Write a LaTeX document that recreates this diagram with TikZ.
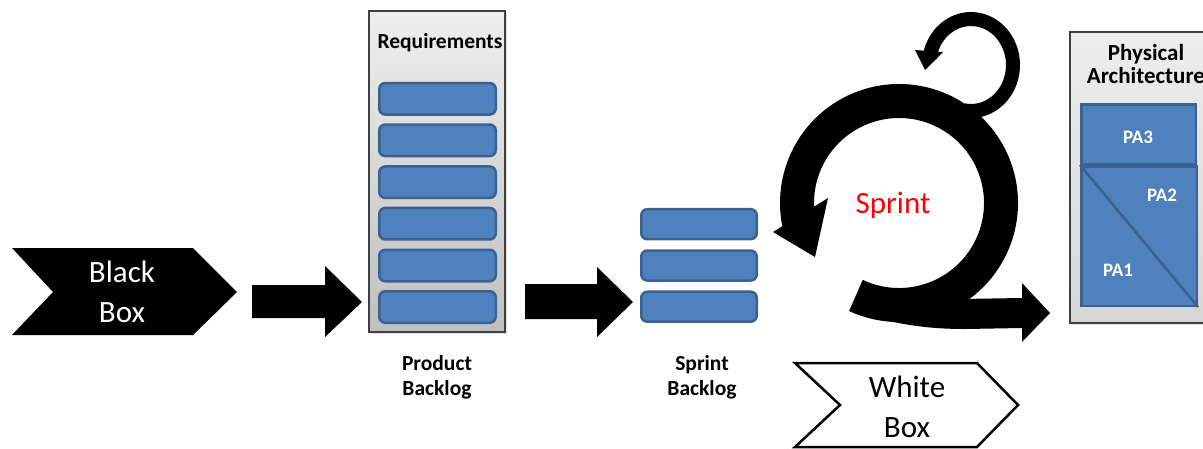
\documentclass[tikz,border=0pt]{standalone}
\usepackage{fontspec}
\setmainfont{Carlito}
\usetikzlibrary{shadows}
\definecolor{barfill}{HTML}{4F81BD}
\definecolor{bardraw}{HTML}{3A6191}
\definecolor{sprintred}{HTML}{FF0000}
\tikzset{
  bar/.style={draw=bardraw, fill=barfill, line width=2.5pt, rounded corners=6pt, inner sep=0pt},
  pabox/.style={draw=bardraw, fill=barfill, line width=2.5pt, inner sep=0pt},
  bigtext/.style={font=\fontsize{31}{40}\selectfont, align=center, inner sep=0pt},
  boldlbl/.style={font=\bfseries\fontsize{21.5}{25}\selectfont, align=center, inner sep=0pt},
  palbl/.style={font=\bfseries\fontsize{19}{20}\selectfont, text=white, inner sep=0pt},
  graybox/.style={draw=black!75, line width=1.2pt, top color=gray!13, bottom color=gray!50, inner sep=0pt,
    drop shadow={opacity=0.25, shadow xshift=2pt, shadow yshift=-2pt}},
  graybox2/.style={draw=black!75, line width=1.2pt, top color=gray!14, bottom color=gray!32, inner sep=0pt,
    drop shadow={opacity=0.25, shadow xshift=2pt, shadow yshift=-2pt}},
  solid black/.style={fill=black},
  chevron/.style={draw=black, line width=2.5pt, line join=miter, fill=white},
}
\begin{document}
\begin{tikzpicture}[x=1pt,y=1pt]
\useasboundingbox (0,0) rectangle (1203,-448);
\clip (0,0) rectangle (1203,-448);

% Black box chevron
\path[solid black] (12,-248) -- (193,-248) -- (237,-292) -- (193,-335) -- (12,-335) -- (53,-292) -- cycle;
\node[bigtext, text=white] (bb) at (122,-292) {Black\\Box};

% Arrow 1
\path[solid black] (252,-285) -- (325,-285) -- (325,-266) -- (362,-302) -- (325,-337) -- (325,-318) -- (252,-318) -- cycle;

% Requirements / product backlog
\node[graybox, minimum width=136pt, minimum height=321pt] (req) at (437,-171.5) {};
\node[boldlbl] (reqlbl) at (440,-43) {Requirements};
\foreach \i/\y in {1/98.8,2/140.3,3/182.2,4/223.7,5/265.5,6/307}
  \node[bar, minimum width=116.5pt, minimum height=31.5pt] (r\i) at (437.5,-\y) {};
\node[boldlbl] (pb) at (437,-377) {Product\\Backlog};

% Arrow 2
\path[solid black] (525,-284) -- (597,-284) -- (597,-267) -- (633,-302) -- (597,-337) -- (597,-319) -- (525,-319) -- cycle;

% Sprint backlog
\foreach \i/\y in {1/224.2,2/265.5,3/306.7}
  \node[bar, minimum width=115.5pt, minimum height=30pt] (s\i) at (699,-\y) {};
\node[boldlbl] (sb) at (702,-377) {Sprint\\Backlog};

% Sprint cycle
\coordinate (sc) at (899,-203);
\draw[line width=34pt] (sc) ++(245:102) arc[start angle=245, end angle=555, radius=102];
\path[solid black] (773,-232) -- (828,-198) -- (815,-257) -- cycle;
% exit arrow, merging with the bottom of the ring
\path[solid black] (899,-300) -- (1022,-298) -- (1022,-283) -- (1050,-313) -- (1022,-342) -- (1022,-328)
  -- (965,-329) .. controls (930,-329) and (905,-325) .. (880,-319) -- cycle;
% small loop
\coordinate (lc) at (971,-65);
\draw[line width=14pt] (lc) ++(-100:42 and 46) arc[start angle=-100, end angle=172, x radius=42, y radius=46];
\path[solid black] (915,-50) -- (943,-52) -- (925,-70) -- cycle;
\node[bigtext, text=sprintred] (sprint) at (893,-205) {Sprint};

% White box chevron
\path[chevron] (795,-363) -- (977,-363) -- (1018,-405) -- (977,-447) -- (795,-447) -- (840,-405) -- cycle;
\node[bigtext] (wb) at (907,-407) {White\\Box};

% Physical architecture
\node[graybox2, minimum width=150pt, minimum height=291pt] (phys) at (1145,-177.5) {};
\node[boldlbl, font=\bfseries\fontsize{23}{23}\selectfont] (physlbl) at (1146,-64) {Physical\\Architecture};
\node[pabox, minimum width=114.5pt, minimum height=59.5pt] (pa3) at (1138.5,-134) {};
\node[pabox, minimum width=115.5pt, minimum height=139.5pt] (pa12) at (1139,-236) {};
\draw[draw=bardraw, line width=2.5pt] (pa12.north west) -- (pa12.south east);
\node[palbl] (pa3l) at (1138,-137) {PA3};
\node[palbl] (pa2l) at (1162,-195) {PA2};
\node[palbl] (pa1l) at (1118,-270) {PA1};
\end{tikzpicture}
\end{document}
